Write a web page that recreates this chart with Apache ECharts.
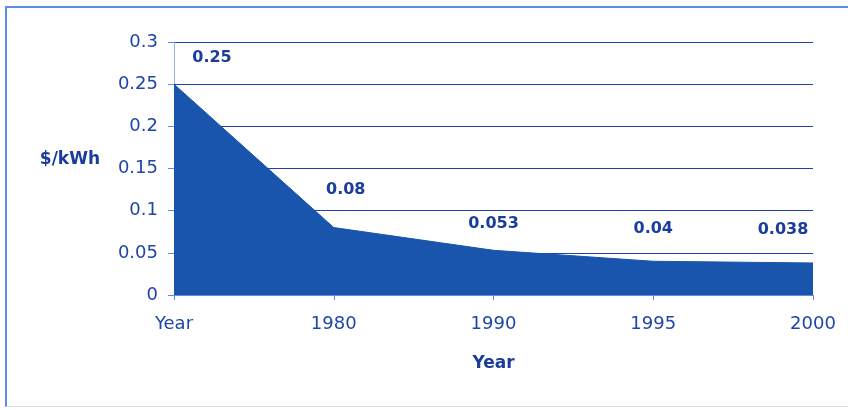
<!DOCTYPE html>
<html>
<head>
<meta charset="utf-8">
<title>Cost per kWh</title>
<script type="text/javascript" src="https://cdn.jsdelivr.net/npm/echarts@6/dist/echarts.min.js"></script>
<style>
	html, body { margin: 0; padding: 0; background: #fff; }
	#frame { position: absolute; left: 5px; top: 6px; width: 843px; height: 401px; border-left: 2px solid #5b8ee0; border-top: 2px solid #5b8ee0; border-bottom: 1px solid #d6e2f2; box-sizing: border-box; }
	#main { position: absolute; left: 0; top: 0; width: 848px; height: 410px; }
</style>
</head>
<body>
<div id="frame"></div>
<div id="main"></div>
<script type="text/javascript">
	// data
	var categories = ['Year', '1980', '1990', '1995', '2000'];
	var costs = [0.25, 0.08, 0.053, 0.04, 0.038];
	var labelText = ['0.25', '0.08', '0.053', '0.04', '0.038'];

	var blue = '#1f45a8';
	var font = 'DejaVu Sans';
	// label offsets per point (px)
	var offsets = [[38, -8], [12, -20], [0, -8], [0, -14], [-30, -15]];

	var myChart = echarts.init(document.getElementById('main'));
	var option = {
		animation: false,
		grid: { left: 174, right: 35, top: 42, bottom: 115 },
		xAxis: {
			type: 'category',
			data: categories,
			boundaryGap: false,
			name: 'Year',
			nameLocation: 'middle',
			nameGap: 60,
			nameTextStyle: { color: '#1a3d9c', fontSize: 17, fontWeight: 'bold', fontFamily: font },
			axisLine: { show: true, lineStyle: { color: '#5b8ee0', width: 1 } },
			axisTick: { show: true, alignWithLabel: true, length: 5, lineStyle: { color: '#5b8ee0' } },
			axisLabel: { color: blue, fontSize: 18, fontFamily: font, margin: 20 }
		},
		yAxis: {
			type: 'value',
			min: 0,
			max: 0.3,
			interval: 0.05,
			name: '$/kWh',
			nameLocation: 'middle',
			nameRotate: 0,
			nameGap: 74,
			nameTextStyle: { color: '#1a3d9c', fontSize: 17, fontWeight: 'bold', fontFamily: font, verticalAlign: 'bottom' },
			axisLine: { show: true, lineStyle: { color: '#8fb4ee', width: 1 } },
			axisTick: { show: true, length: 6, lineStyle: { color: '#5b8ee0' } },
			axisLabel: { color: blue, fontSize: 18, fontFamily: font, margin: 16 },
			splitLine: { show: true, lineStyle: { color: '#2040b0', width: 1.2 } }
		},
		series: [{
			type: 'line',
			data: costs.map(function (v, i) {
				return {
					value: v,
					label: { offset: offsets[i], formatter: labelText[i] }
				};
			}),
			symbol: 'circle',
			symbolSize: 0,
			showSymbol: true,
			lineStyle: { color: '#1a55ad', width: 1 },
			itemStyle: { color: '#1a55ad' },
			areaStyle: { color: '#1a55ad', opacity: 1 },
			label: {
				show: true,
				position: 'top',
				distance: 10,
				color: '#1a3d9c',
				fontSize: 16,
				fontWeight: 'bold',
				fontFamily: font
			}
		}]
	};
	myChart.setOption(option);
</script>
</body>
</html>
